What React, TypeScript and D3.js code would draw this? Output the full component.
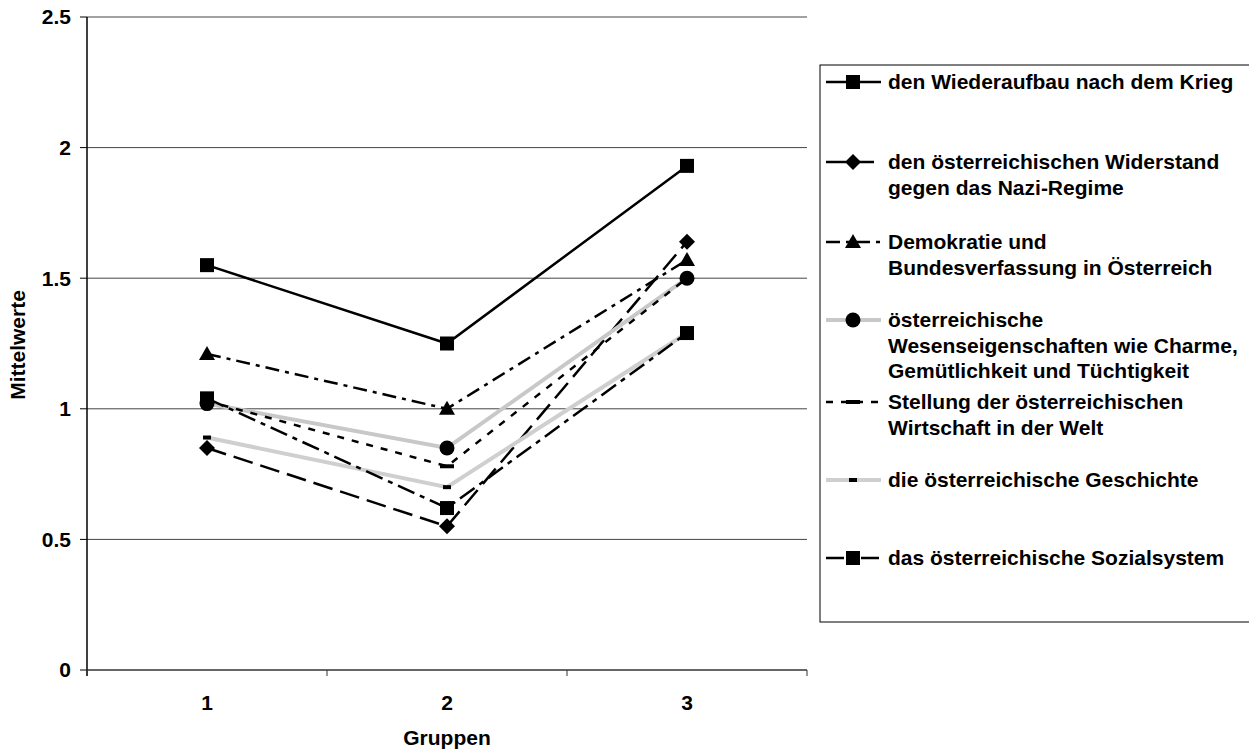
import React from "react";
import * as d3 from "d3";

const groups = [1, 2, 3];
const yTicks = [0, 0.5, 1, 1.5, 2, 2.5];

const wiederaufbau = [1.55, 1.25, 1.93];
const widerstand = [0.85, 0.55, 1.64];
const demokratie = [1.21, 1.0, 1.57];
const wesen = [1.02, 0.85, 1.5];
const stellung = [1.03, 0.78, 1.5];
const geschichte = [0.89, 0.7, 1.29];
const sozial = [1.04, 0.62, 1.29];

const labels = [
  ["den Wiederaufbau nach dem Krieg"],
  ["den österreichischen Widerstand", "gegen das Nazi-Regime"],
  ["Demokratie und", "Bundesverfassung in Österreich"],
  ["österreichische", "Wesenseigenschaften wie Charme,", "Gemütlichkeit und Tüchtigkeit"],
  ["Stellung der österreichischen", "Wirtschaft in der Welt"],
  ["die österreichische Geschichte"],
  ["das österreichische Sozialsystem"],
];

type Style = { color: string; width: number; dash?: string; marker: string };
const styles: Style[] = [
  { color: "#000", width: 2.5, marker: "square" },
  { color: "#000", width: 2.5, dash: "20,8", marker: "diamond" },
  { color: "#000", width: 2.5, dash: "14,6,4,6", marker: "triangle" },
  { color: "#c8c8c8", width: 4, marker: "circle" },
  { color: "#000", width: 2.5, dash: "7,8", marker: "bar" },
  { color: "#cfcfcf", width: 4, marker: "smallbar" },
  { color: "#000", width: 2.5, dash: "18,6,5,6", marker: "square" },
];
const seriesData = [wiederaufbau, widerstand, demokratie, wesen, stellung, geschichte, sozial];

const legendY = [82, 162, 242, 320, 402, 480, 558];

function Marker({ type, x, y }: { type: string; x: number; y: number }) {
  switch (type) {
    case "square":
      return <rect x={x - 7} y={y - 7} width={14} height={14} fill="#000" />;
    case "diamond":
      return <path d={`M${x},${y - 8}L${x + 8},${y}L${x},${y + 8}L${x - 8},${y}Z`} fill="#000" />;
    case "triangle":
      return <path d={`M${x},${y - 8}L${x + 8},${y + 6}L${x - 8},${y + 6}Z`} fill="#000" />;
    case "circle":
      return <circle cx={x} cy={y} r={7.5} fill="#000" />;
    case "bar":
      return <rect x={x - 7} y={y - 2} width={14} height={4} fill="#000" />;
    case "smallbar":
      return <rect x={x - 4} y={y - 2} width={8} height={4} fill="#000" />;
  }
  return null;
}

export default function App() {
  const W = 1249, H = 752;
  const left = 87, right = 807, top = 17, bottom = 670;
  const x = d3.scaleBand<number>().domain(groups).range([left, right]);
  const cx = (g: number) => (x(g) as number) + x.bandwidth() / 2;
  const y = d3.scaleLinear().domain([0, 2.5]).range([bottom, top]);
  const line = d3.line<number>().x((_, i) => cx(groups[i])).y((d) => y(d));
  const font = "'Liberation Sans', Arial, sans-serif";
  const fs = 21;
  const bandEdges = [left, ...groups.map((g) => (x(g) as number) + x.bandwidth())];

  return (
    <svg width={W} height={H} style={{ position: "absolute", left: 0, top: 0, background: "#fff" }} fontFamily={font} fontWeight="bold">
      {yTicks.map((t) => (
        <g key={t}>
          {t > 0 && <line x1={left} x2={right} y1={y(t)} y2={y(t)} stroke="#444" strokeWidth={1} />}
          <line x1={left - 7} x2={left} y1={y(t)} y2={y(t)} stroke="#000" strokeWidth={1} />
          <text x={left - 16} y={y(t)} dy="0.35em" textAnchor="end" fontSize={fs}>
            {t}
          </text>
        </g>
      ))}
      <line x1={left} x2={left} y1={top} y2={bottom + 6} stroke="#000" strokeWidth={1.5} />
      <line x1={left} x2={right} y1={bottom} y2={bottom} stroke="#333" strokeWidth={1.5} />
      {bandEdges.map((e) => (
        <line key={e} x1={e} x2={e} y1={bottom} y2={bottom + 6} stroke="#333" strokeWidth={1} />
      ))}
      {groups.map((g) => (
        <text key={g} x={cx(g)} y={703} dy="0.35em" textAnchor="middle" fontSize={fs}>
          {g}
        </text>
      ))}
      <text x={447} y={738} dy="0.35em" textAnchor="middle" fontSize={fs}>
        Gruppen
      </text>
      <text transform={`translate(18,345) rotate(-90)`} dy="0.35em" textAnchor="middle" fontSize={fs}>
        Mittelwerte
      </text>

      {seriesData.map((s, i) => (
        <g key={i}>
          <path d={line(s) || ""} fill="none" stroke={styles[i].color} strokeWidth={styles[i].width} strokeDasharray={styles[i].dash} />
          {s.map((v, j) => (
            <Marker key={j} type={styles[i].marker} x={cx(groups[j])} y={y(v)} />
          ))}
        </g>
      ))}

      <rect x={820} y={65} width={440} height={557} fill="none" stroke="#000" strokeWidth={1} />
      {labels.map((lines, i) => (
        <g key={i}>
          <line x1={826} x2={881} y1={legendY[i]} y2={legendY[i]} stroke={styles[i].color} strokeWidth={styles[i].width} strokeDasharray={styles[i].dash} />
          <Marker type={styles[i].marker} x={853} y={legendY[i]} />
          {lines.map((l, k) => (
            <text key={k} x={888} y={legendY[i] + k * 25.5} dy="0.35em" fontSize={fs}>
              {l}
            </text>
          ))}
        </g>
      ))}
    </svg>
  );
}
